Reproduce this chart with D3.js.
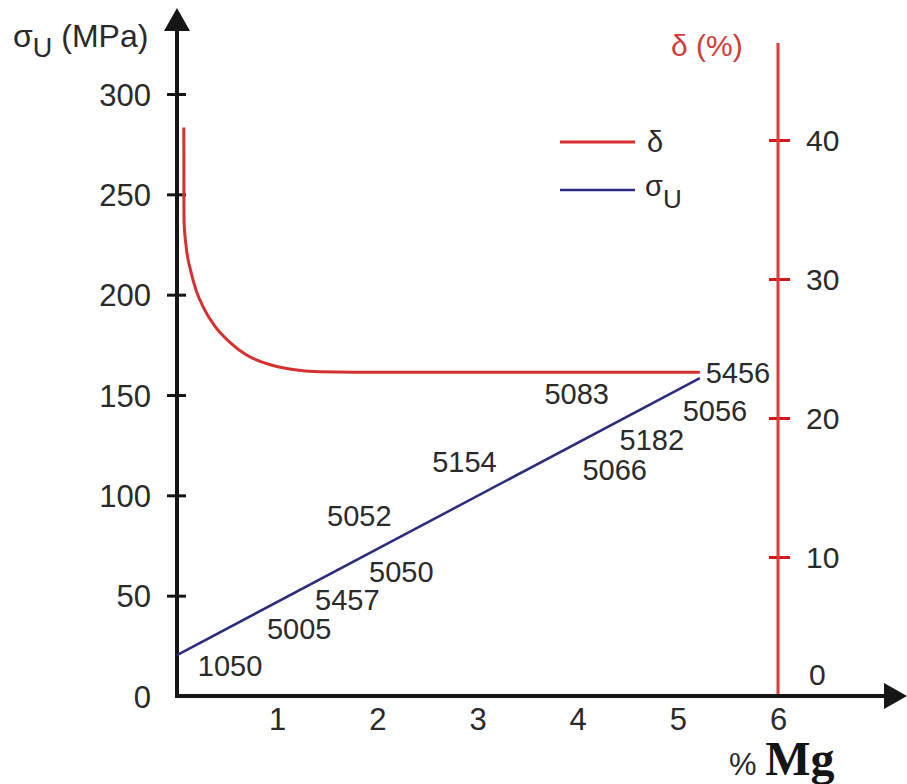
<!DOCTYPE html>
<html><head><meta charset="utf-8">
<script src="https://cdn.jsdelivr.net/npm/d3@7"></script>
<style>body{margin:0;background:#fff}svg{display:block}text{font-family:"Liberation Sans",Arial,sans-serif;fill:#2a2a2a}</style>
</head><body><svg id="c" width="907" height="784"></svg>
<script>
// Data
const sigmaTicks = [0, 50, 100, 150, 200, 250, 300];
const deltaTicks = [0, 10, 20, 30, 40];
const mgTicks = [1, 2, 3, 4, 5, 6];
const sigmaMg = [0, 5.22];
const sigmaVal = [20.4, 158.4];
const deltaMg  = [0.068, 0.069, 0.070, 0.092, 0.135, 0.190, 0.275, 0.380, 0.520, 0.690, 0.900, 1.140, 1.420, 1.780, 5.22];
const deltaVal = [40.9, 35.7, 34.2, 32.3, 30.65, 29.2, 27.8, 26.6, 25.5, 24.55, 23.9, 23.5, 23.32, 23.3, 23.3];
const alloyNames = ["1050","5005","5457","5050","5052","5154","5083","5456","5056","5182","5066"];
const alloyMg    = [0.53, 1.22, 1.70, 2.24, 1.82, 2.87, 3.99, 5.60, 5.37, 4.74, 4.37];
const alloySigma = [15.4, 33.4, 48.3, 61.8, 89.7, 116.6, 150.5, 161, 142, 128, 112.6];

const svg = d3.select("#c");
const x = d3.scaleLinear().domain([0, 6]).range([177, 778]);
const y = d3.scaleLinear().domain([0, 300]).range([696, 94]);
const yR = d3.scaleLinear().domain([0, 40]).range([696, 140]);

const black = "#151515", red = "#d63030", blue = "#2b2b80";
const FF = '"Liberation Sans",Arial,sans-serif';

// Left axis
const gL = svg.append("g").attr("transform", `translate(${x(0)},0)`)
  .call(d3.axisLeft(y).tickValues(sigmaTicks).tickFormat(d3.format("d")).tickSize(0).tickPadding(26));
gL.select(".domain").remove();
gL.selectAll(".tick text").attr("font-size", 31).attr("fill", "#2a2a2a")
  .attr("font-family", FF).attr("dy", "0.36em");
gL.selectAll(".tick line").filter(d => d !== 0).attr("x1", -10).attr("x2", 9)
  .attr("stroke", black).attr("stroke-width", 3);

// Right axis
const gR = svg.append("g").attr("transform", `translate(${x(6)},0)`)
  .call(d3.axisRight(yR).tickValues(deltaTicks).tickFormat(d3.format("d")).tickSize(0).tickPadding(28));
gR.select(".domain").remove();
gR.selectAll(".tick text").attr("font-size", 30).attr("fill", "#2a2a2a")
  .attr("font-family", FF).attr("dy", "0.36em")
  .attr("transform", d => d === 0 ? "translate(3,-22)" : null);
gR.selectAll(".tick line").filter(d => d !== 0).attr("x1", -9).attr("x2", 12)
  .attr("stroke", "#d01a1a").attr("stroke-width", 3);
svg.append("line").attr("x1", x(6)).attr("x2", x(6)).attr("y1", 43).attr("y2", y(0))
  .attr("stroke", "#e0393a").attr("stroke-width", 3);

// Bottom axis labels
const gB = svg.append("g").attr("transform", `translate(0,${y(0)})`)
  .call(d3.axisBottom(x).tickValues(mgTicks).tickFormat(d3.format("d")).tickSize(0).tickPadding(12));
gB.select(".domain").remove();
gB.selectAll(".tick text").attr("font-size", 31).attr("fill", "#2a2a2a").attr("font-family", FF);

// Axis lines with arrows
svg.append("line").attr("x1", x(0)).attr("x2", x(0)).attr("y1", 28).attr("y2", y(0) + 2)
  .attr("stroke", black).attr("stroke-width", 4);
svg.append("path").attr("d", `M${x(0)},8 L${x(0)-13},31 L${x(0)+13},31 Z`).attr("fill", black);
svg.append("line").attr("x1", x(0) - 2).attr("x2", 888).attr("y1", y(0)).attr("y2", y(0))
  .attr("stroke", black).attr("stroke-width", 4);
svg.append("path").attr("d", `M907,${y(0)} L884,${y(0)-13} L884,${y(0)+13} Z`).attr("fill", black);

// Lines
svg.append("path")
  .attr("d", d3.line().x(d => x(d[0])).y(d => yR(d[1])).curve(d3.curveMonotoneX)(deltaMg.map((m, i) => [m, deltaVal[i]])))
  .attr("fill", "none").attr("stroke", red).attr("stroke-width", 3);
svg.append("path")
  .attr("d", d3.line().x(d => x(d[0])).y(d => y(d[1]))(sigmaMg.map((m, i) => [m, sigmaVal[i]])))
  .attr("fill", "none").attr("stroke", blue).attr("stroke-width", 2.5);

// Alloy labels
svg.append("g").selectAll("text").data(alloyNames).join("text")
  .attr("x", (d, i) => x(alloyMg[i])).attr("y", (d, i) => y(alloySigma[i]))
  .attr("dy", "0.36em").attr("text-anchor", "middle").attr("font-size", 29).text(d => d);

// Legend
svg.append("line").attr("x1", 560).attr("x2", 635).attr("y1", 142).attr("y2", 142).attr("stroke", red).attr("stroke-width", 3);
svg.append("line").attr("x1", 560).attr("x2", 635).attr("y1", 190).attr("y2", 190).attr("stroke", blue).attr("stroke-width", 2.5);
svg.append("text").attr("x", 647).attr("y", 152).attr("font-size", 29).text("δ");
const lg = svg.append("text").attr("x", 645).attr("y", 196).attr("font-size", 29);
lg.append("tspan").text("σ");
lg.append("tspan").attr("dy", 12).attr("font-size", 26).text("U");

// Axis titles
const t1 = svg.append("text").attr("x", 13).attr("y", 47).attr("font-size", 32);
t1.append("tspan").text("σ");
t1.append("tspan").attr("dy", 10).attr("font-size", 27).text("U");
t1.append("tspan").attr("dy", -10).attr("dx", 9).text("(MPa)");
svg.append("text").attr("x", 671).attr("y", 56).attr("font-size", 30).style("fill", "#d33a3a").text("δ (%)");
const t3 = svg.append("text").attr("x", 729).attr("y", 775);
t3.append("tspan").attr("font-size", 31).text("% ");
t3.append("tspan").attr("font-size", 48).attr("font-weight", "bold")
  .attr("font-family", '"Liberation Serif","Times New Roman",serif').style("fill", "#151515").text("Mg");
</script></body></html>
